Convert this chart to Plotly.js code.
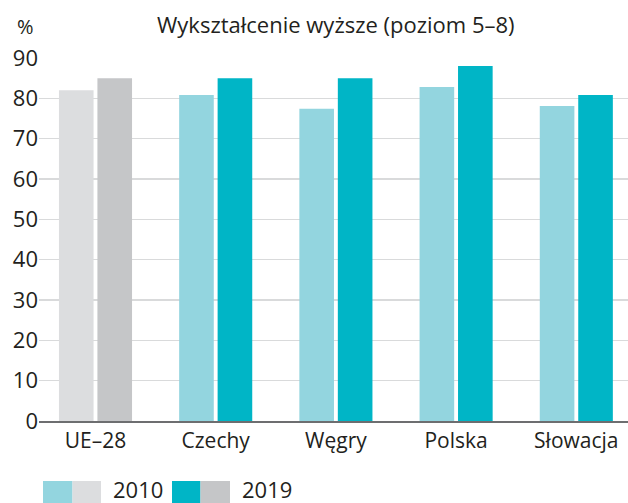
<!DOCTYPE html>
<html><head><meta charset="utf-8">
<script src="https://cdn.plot.ly/plotly-3.0.1.min.js"></script>
<style>html,body{margin:0;padding:0;background:#fff;}#c{width:628px;height:503px;}</style>
</head><body><div id="c"></div>
<script>
const categories = ['UE–28', 'Czechy', 'Węgry', 'Polska', 'Słowacja'];
const values2010 = [82, 80.8, 77.4, 82.8, 78.1];
const values2019 = [85, 85, 85, 88, 80.8];
const colors2010 = ['#dcdddf', '#93d5df', '#93d5df', '#93d5df', '#93d5df'];
const colors2019 = ['#c5c6c8', '#00b5c6', '#00b5c6', '#00b5c6', '#00b5c6'];
const yTicks = [0, 10, 20, 30, 40, 50, 60, 70, 80, 90];
const legendYears = ['2010', '2019'];

const FONT = 'Open Sans, sans-serif';
const TXT = '#231f20';

const traces = [
  {type: 'bar', name: legendYears[0], x: categories, y: values2010, marker: {color: colors2010}, hoverinfo: 'none'},
  {type: 'bar', name: legendYears[1], x: categories, y: values2019, marker: {color: colors2019}, hoverinfo: 'none'}
];

const plotW = 628 - 39, plotH = 503 - 58 - 82;
const px = x => (x - 39) / plotW;
const py = y => (503 - 82 - y) / plotH;

const layout = {
  width: 628, height: 503,
  margin: {l: 39, r: 0, t: 58, b: 82},
  paper_bgcolor: '#fff', plot_bgcolor: '#fff',
  barmode: 'group', bargap: 0.36, bargroupgap: 0.1,
  showlegend: false,
  font: {family: FONT, color: TXT, size: 21},
  xaxis: {
    type: 'category', range: [-0.47, 4.43],
    showline: true, linecolor: '#6d6e70', linewidth: 1.5,
    showgrid: false, ticks: '', zeroline: false,
    tickfont: {family: FONT, size: 21, color: TXT}
  },
  yaxis: {
    range: [0, 90], tickvals: yTicks, ticktext: yTicks.map(String),
    showgrid: true, gridcolor: '#d9dadb', gridwidth: 1.2,
    zeroline: false, showline: false, ticks: '',
    tickfont: {family: FONT, size: 22, color: TXT}
  },
  annotations: [
    {text: 'Wykształcenie wyższe (poziom 5–8)', xref: 'paper', yref: 'paper', x: px(336), y: py(24), xanchor: 'center', yanchor: 'middle', showarrow: false, font: {family: FONT, size: 22, color: TXT}},
    {text: '%', xref: 'paper', yref: 'paper', x: px(25), y: py(27), xanchor: 'center', yanchor: 'middle', showarrow: false, font: {family: FONT, size: 20, color: TXT}},
    {text: legendYears[0], xref: 'paper', yref: 'paper', x: px(111), y: py(489), xanchor: 'left', yanchor: 'middle', showarrow: false, font: {family: FONT, size: 22, color: TXT}},
    {text: legendYears[1], xref: 'paper', yref: 'paper', x: px(240), y: py(489), xanchor: 'left', yanchor: 'middle', showarrow: false, font: {family: FONT, size: 22, color: TXT}}
  ],
  shapes: []
};

const sw = (x0, x1, c) => ({type: 'rect', xref: 'paper', yref: 'paper', x0: px(x0), x1: px(x1), y0: py(503), y1: py(481), fillcolor: c, line: {width: 0}, layer: 'above'});
layout.shapes = [
  sw(43, 72.5, colors2010[1]), sw(72.5, 101, colors2010[0]),
  sw(172, 200.5, colors2019[1]), sw(200.5, 230, colors2019[0])
];

Plotly.newPlot('c', traces, layout, {staticPlot: true, displayModeBar: false});
</script></body></html>
